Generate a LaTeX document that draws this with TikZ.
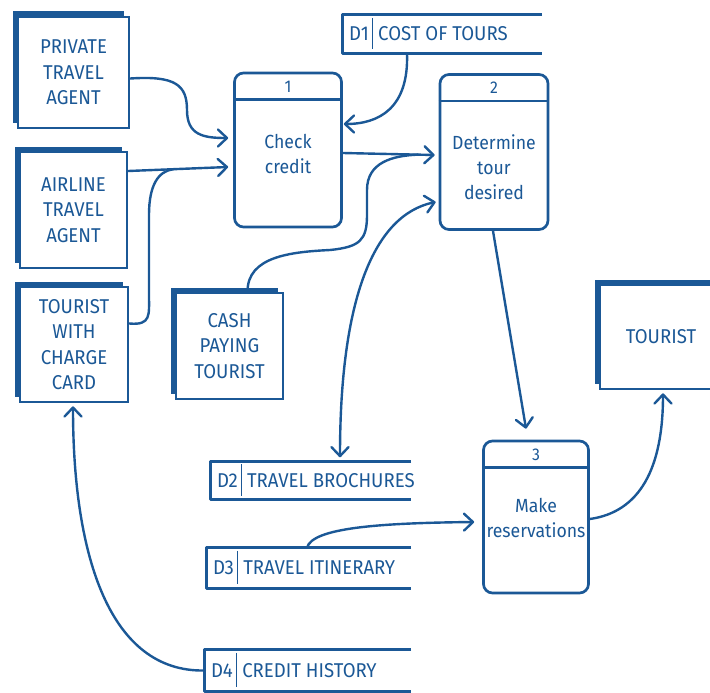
\documentclass[tikz,border=0pt]{standalone}
\usepackage{fontspec}
\setmainfont[FakeStretch=0.93]{Fira Sans}
\usepackage{tikz}
\usetikzlibrary{arrows.meta, calc, shadows}
\definecolor{dfdblue}{HTML}{1B5896}
\tikzset{
  % External entities
  entity/.style={
    rectangle, draw=dfdblue, fill=white, line width=2.7pt,
    general shadow={fill=dfdblue, shadow xshift=-5.5pt, shadow yshift=5.5pt},
    text=dfdblue, font=\fontsize{20}{25.5}\selectfont, align=center,
  },
  % Processes
  process/.style={
    rectangle, rounded corners=9pt, draw=dfdblue, line width=2.7pt,
    minimum width=107pt, minimum height=154pt,
  },
  proctext/.style={text=dfdblue, font=\fontsize{19}{25}\selectfont, align=center, inner sep=0pt},
  procnum/.style={text=dfdblue, font=\fontsize{17}{17}\selectfont, inner sep=0pt},
  procline/.style={draw=dfdblue, line width=2.7pt},
  % Data stores
  store/.style={rectangle, inner sep=0pt, minimum width=200pt, minimum height=38pt},
  storetext/.style={text=dfdblue, font=\fontsize{20}{24}\selectfont, inner sep=0pt, anchor=west},
  storeline/.style={draw=dfdblue, line width=2.7pt, line join=round},
  storebar/.style={draw=dfdblue, line width=1.3pt},
  % Flows
  flow/.style={-{Straight Barb[length=9pt,width=17pt,round]}, draw=dfdblue,
    line width=2.4pt, line cap=round},
  biflow/.style={{Straight Barb[length=9pt,width=17pt,round]}-{Straight Barb[length=9pt,width=17pt,round]},
    draw=dfdblue, line width=2.4pt, line cap=round},
  joinflow/.style={draw=dfdblue, line width=2.4pt, line cap=round},
}

\begin{document}
\begin{tikzpicture}[x=1pt, y=-1pt]
  \useasboundingbox (0,0) rectangle (710,693);

  % External entities
  \node[entity, minimum width=111pt, minimum height=111pt] (pvtagent) at (73.5,72.5)
    {PRIVATE\\TRAVEL\\AGENT};
  \node[entity, minimum width=107pt, minimum height=116pt] (airagent) at (73.5,210)
    {AIRLINE\\TRAVEL\\AGENT};
  \node[entity, minimum width=108pt, minimum height=115pt] (cardtourist) at (74,344.5)
    {TOURIST\\WITH\\CHARGE\\CARD};
  \node[entity, minimum width=107pt, minimum height=106pt] (cashtourist) at (229.5,346)
    {CASH\\PAYING\\TOURIST};
  \node[entity, minimum width=122pt, minimum height=104pt] (tourist) at (661,337)
    {TOURIST};

  % Processes
  \node[process] (checkcredit) at (288,150) {};
  \node[process, minimum width=108pt, minimum height=155pt] (tourdesired) at (494,152) {};
  \node[process, minimum width=105pt, minimum height=152pt] (makeres) at (536,517) {};

  \node[proctext] (checktext) at ($(checkcredit.center)+(0,4)$) {Check\\credit};
  \node[proctext] (tourtext) at ($(tourdesired.center)+(0,15)$) {Determine\\tour\\desired};
  \node[proctext] (restext) at ($(makeres.center)+(0,1)$) {Make\\reservations};

  \foreach \p/\n in {checkcredit/1, tourdesired/2, makeres/3} {
    \draw[procline] ($(\p.north west)+(0,28)$) -- ($(\p.north east)+(0,28)$);
    \node[procnum] (num\n) at ($(\p.north)+(0,15)$) {\n};
  }

  % Data stores
  \node[store, minimum width=199pt] (costs) at (442.5,34) {};
  \node[store] (brochures) at (311,480.5) {};
  \node[store, minimum width=204pt, minimum height=40pt] (itinerary) at (309,568) {};
  \node[store, minimum width=206pt, minimum height=41pt] (credithist) at (308,670.5) {};

  \foreach \s/\id/\name in {costs/D1/COST OF TOURS, brochures/D2/TRAVEL BROCHURES,
      itinerary/D3/TRAVEL ITINERARY, credithist/D4/CREDIT HISTORY} {
    \node[storetext] (\s id) at ([xshift=6pt]\s.west) {\id};
    \node[storetext] (\s name) at ([xshift=9pt]\s id.east) {\name};
    \draw[storeline] (\s.north east) -- (\s.north west) -- (\s.south west) -- (\s.south east);
    \draw[storebar] ([xshift=3.5pt,yshift=-3pt]\s id.east |- \s.north)
      -- ([xshift=3.5pt,yshift=4pt]\s id.east |- \s.south);
  }

  % Flows into check credit
  \coordinate (airstart) at ([yshift=39pt]airagent.east);
  \coordinate (airend) at ([xshift=-5pt,yshift=-17pt]checkcredit.west);
  \coordinate (join1) at ($(airstart)!0.45!(airend)$);
  \draw[flow] ([yshift=-6pt]pvtagent.east) .. controls +(45,-3) and +(0,-25) .. (187,110)
    .. controls +(0,25) and +(-25,0) .. ([xshift=-5pt,yshift=12pt]checkcredit.west);
  \draw[flow] (airstart) -- (airend);
  \draw[joinflow] ([yshift=21pt]cardtourist.east) .. controls +(22,2) and +(0,20) .. (149,295)
    -- (149,215) .. controls +(0,-30) and +(-15,2) .. (join1);
  \draw[flow] ([xshift=-35.5pt]costs.south) .. controls +(2,55) and +(35,0)
    .. ([xshift=1pt,yshift=26pt]checkcredit.east);

  % Flows into determine tour
  \coordinate (checkout) at ([yshift=-3pt]checkcredit.east);
  \coordinate (tourin) at ([xshift=-4pt,yshift=-3pt]tourdesired.west);
  \coordinate (join2) at ($(checkout)!0.82!(tourin)$);
  \draw[flow] (checkout) -- (tourin);
  \draw[joinflow] ([xshift=18pt]cashtourist.north) .. controls +(0,-35) and +(-40,2) .. (330,250)
    .. controls +(30,-3) and +(0,25) .. (367,215) -- (367,190)
    .. controls +(0,-28) and +(-25,1) .. (join2);
  \draw[biflow] ([xshift=29pt,yshift=4pt]brochures.north) .. controls +(0,-158) and +(-62,13)
    .. ([xshift=-3pt,yshift=-50pt]tourdesired.west);

  % Flows through make reservations
  \draw[flow] ([xshift=-1pt]tourdesired.south) -- ([xshift=-10pt,yshift=11pt]makeres.north);
  \draw[flow] ([xshift=-2pt]itinerary.north) .. controls +(5,-20) and +(-95,1)
    .. ([xshift=-8pt,yshift=-5pt]makeres.west);
  \draw[flow] ([yshift=-2pt]makeres.east) .. controls +(50,-7) and +(0,75)
    .. ([xshift=2pt,yshift=-3pt]tourist.south);
  \draw[flow] (credithist.west) .. controls +(-95,2) and +(0,150)
    .. ([xshift=-1pt,yshift=-3pt]cardtourist.south);

\end{tikzpicture}
\end{document}
